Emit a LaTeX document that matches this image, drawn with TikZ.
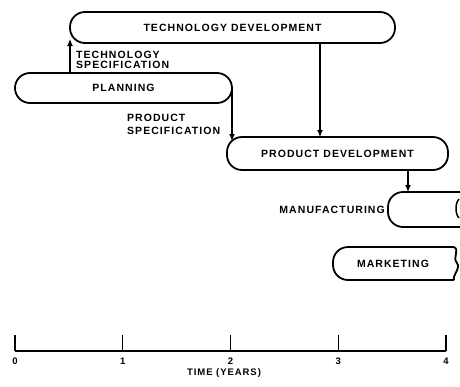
\documentclass[tikz,border=0pt]{standalone}
\usepackage{fontspec}
\setsansfont{Liberation Sans}[LetterSpace=10]
\usetikzlibrary{positioning,arrows.meta}

\begin{document}
\begin{tikzpicture}[x=1pt,y=-1pt,>={Latex[length=7pt,width=6pt]},
  phase/.style={rectangle,rounded corners=15pt,draw,line width=1.8pt,
    font=\sffamily\bfseries\fontsize{10.5}{11}\selectfont},
  tag/.style={font=\sffamily\bfseries\fontsize{10.5}{11}\selectfont,inner sep=0pt},
  small tag/.style={tag,font=\sffamily\bfseries\fontsize{9.5}{10}\selectfont},
  link/.style={->,line width=1.2pt}]

  \useasboundingbox (0,0) rectangle (460,386);
  \clip (0,0) rectangle (460,386);

  % phases
  \node[phase,minimum width=325pt,minimum height=31pt] (tech) at (232.5,27.5) {TECHNOLOGY DEVELOPMENT};
  \node[phase,minimum width=217pt,minimum height=30pt] (plan) at (123.5,88) {PLANNING};
  \node[phase,minimum width=221pt,minimum height=33pt] (prod) at (337.5,153.5) {PRODUCT DEVELOPMENT};

  % phases running on past the right edge
  \draw[line width=1.8pt,rounded corners=15pt] (462,192) -- (388,192) -- (388,227) -- (462,227);
  \draw[line width=1.5pt] (459,199) .. controls (455,203) and (455,214) .. (459,218);
  \draw[line width=1.8pt,rounded corners=15pt] (454,247) -- (333,247) -- (333,280) -- (454,280);
  \draw[line width=1.8pt] (454,247) .. controls (460,250) and (452,258) .. (457,263)
    .. controls (461,268) and (452,276) .. (454,280);
  \node[tag] (mkt) at (393,263.5) {MARKETING};
  \node[tag,anchor=east] (mfg) at (385,210) {MANUFACTURING};

  % hand-over points
  \coordinate (ts) at (70,39);
  \coordinate (ps) at (232,141);
  \coordinate (td) at (320,137);
  \coordinate (mf) at (408,192);

  \draw[link] (plan.north -| ts) -- (ts);
  \draw[link] (plan.east -| ps) -- (ps);
  \draw[link] (tech.south -| td) -- (td);
  \draw[link] (prod.south -| mf) -- (mf);

  \node[tag,anchor=north west,align=left] (tspec) at (76,51)
    {TECHNOLOGY\\[-1.5pt]SPECIFICATION};
  \node[tag,anchor=north west,align=left] (pspec) at (127,114)
    {PRODUCT\\[2pt]SPECIFICATION};

  % time axis
  \draw[line width=1.3pt] (15,351) -- (446,351);
  \foreach \i in {0,...,4}
    \draw[line width=1.3pt] ({15+107.75*\i},335) -- ({15+107.75*\i},351)
      node[small tag,below=6pt] (t\i) {\i};
  \node[small tag] (time) at (224,373) {TIME (YEARS)};
\end{tikzpicture}
\end{document}
